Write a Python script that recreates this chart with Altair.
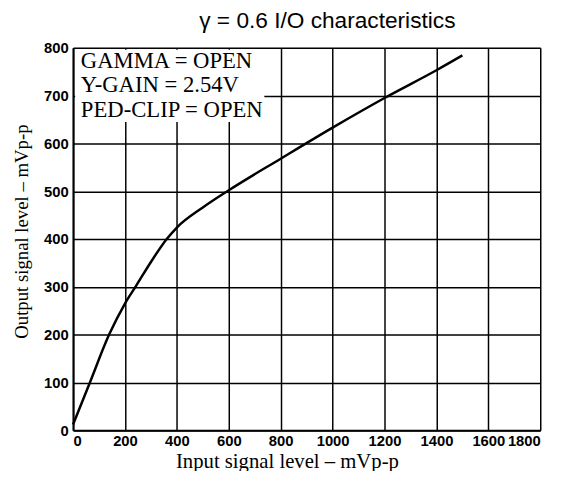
import altair as alt
import pandas as pd

# Curve
input_mv = [0, 65, 139, 200, 244, 300, 361, 400, 500, 600, 800, 1000, 1200, 1400, 1500]
output_mv = [12, 100, 200, 265, 303, 352, 400, 424, 466, 502, 568, 633, 695, 753, 784]

# Annotation box
notes = ["GAMMA = OPEN", "Y-GAIN = 2.54V", "PED-CLIP = OPEN"]
note_x = [30, 30, 30]
note_y = [773, 722, 670]
box_x = [8]
box_x2 = [737]
box_y = [645]
box_y2 = [796]

x_ticks = list(range(0, 1801, 200))
y_ticks = list(range(0, 801, 100))

curve = pd.DataFrame({"x": input_mv, "y": output_mv})
notes_df = pd.DataFrame({"x": note_x, "y": note_y, "t": notes})
box_df = pd.DataFrame({"x": box_x, "x2": box_x2, "y": box_y, "y2": box_y2})

xscale = alt.Scale(domain=[0, 1800], nice=False)
yscale = alt.Scale(domain=[0, 800], nice=False)

xaxis = alt.Axis(
    values=x_ticks, format="d", grid=True, gridColor="black", gridWidth=1.5, gridOpacity=1,
    ticks=False, domainColor="black", domainWidth=2,
    labelFont="Liberation Sans", labelFontSize=15, labelFontWeight="bold",
    labelColor="black", labelPadding=4, labelAngle=0,
    title="Input signal level – mVp-p", titleFont="Liberation Serif",
    titleFontSize=21, titleFontWeight="normal", titleColor="black", titlePadding=2,
    titleX=217,
)
yaxis = alt.Axis(
    values=y_ticks, format="d", grid=True, gridColor="black", gridWidth=1.5, gridOpacity=1,
    ticks=False, domainColor="black", domainWidth=2,
    labelFont="Liberation Sans", labelFontSize=15, labelFontWeight="bold",
    labelColor="black", labelPadding=5,
    title="Output signal level – mVp-p", titleFont="Liberation Serif",
    titleFontSize=19, titleFontWeight="normal", titleColor="black", titlePadding=12,
    titleY=186,
)

base_line = alt.Chart(curve).mark_line(
    color="black", strokeWidth=2.5, interpolate="monotone"
).encode(
    x=alt.X("x:Q", scale=xscale, axis=xaxis),
    y=alt.Y("y:Q", scale=yscale, axis=yaxis),
)

box = alt.Chart(box_df).mark_rect(color="white").encode(
    x=alt.X("x:Q", scale=xscale), x2="x2:Q",
    y=alt.Y("y:Q", scale=yscale), y2="y2:Q",
)

text = alt.Chart(notes_df).mark_text(
    align="left", baseline="middle", font="Liberation Serif", fontSize=23, color="black"
).encode(
    x=alt.X("x:Q", scale=xscale),
    y=alt.Y("y:Q", scale=yscale),
    text="t:N",
)

chart = alt.layer(base_line, box, text).properties(
    width=474, height=388,
    title=alt.Title("γ = 0.6 I/O characteristics", font="Liberation Sans",
                    fontSize=23, fontWeight="normal", color="black", offset=8, dx=21),
    autosize=alt.AutoSizeParams(type="none"),
    padding={"left": 66, "top": 37, "right": 17, "bottom": 38},
).configure_view(stroke="black", strokeWidth=2).configure(background="white")

chart.save("out.html", embed_options={"renderer": "svg", "actions": False})
